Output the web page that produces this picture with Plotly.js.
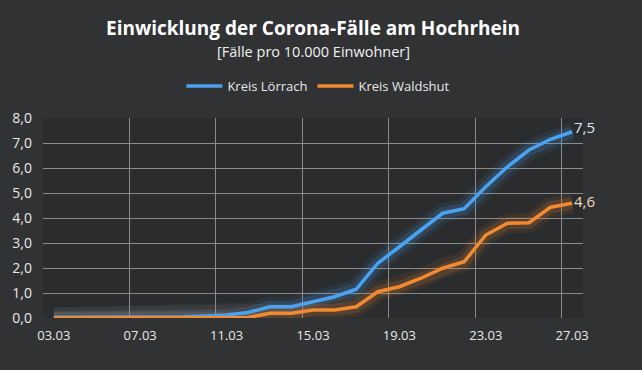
<!DOCTYPE html>
<html><head><meta charset="utf-8">
<script src="https://cdn.plot.ly/plotly-3.0.1.min.js"></script>
<style>html,body{margin:0;padding:0;background:#313234;}#c{width:642px;height:370px;}</style>
</head><body><div id="c"></div>
<script>
const dates = ["03.03","04.03","05.03","06.03","07.03","08.03","09.03","10.03","11.03","12.03","13.03","14.03","15.03","16.03","17.03","18.03","19.03","20.03","21.03","22.03","23.03","24.03","25.03","26.03","27.03"];
const loerrach = [0.03,0.03,0.03,0.03,0.03,0.03,0.05,0.08,0.12,0.22,0.45,0.45,0.66,0.85,1.15,2.19,2.85,3.52,4.19,4.37,5.25,6.05,6.72,7.15,7.45];
const waldshut = [0,0,0,0,0,0,0,0,0,0.02,0.19,0.19,0.32,0.32,0.45,1.05,1.25,1.59,1.99,2.25,3.32,3.79,3.81,4.43,4.59];
const names = ["Kreis Lörrach","Kreis Waldshut"];
const endLabels = ["7,5","4,6"];
const yTicks = [0,1,2,3,4,5,6,7,8];
const xTicks = ["03.03","07.03","11.03","15.03","19.03","23.03","27.03"];

const blue = "#4aa3f0", orange = "#f28b30";
function glow(y, c, w, op){
  return {x: dates, y: y, type:"scatter", mode:"lines", line:{color:c, width:w}, opacity:op, showlegend:false, hoverinfo:"skip"};
}
const data = [
  glow(loerrach, blue, 20, 0.08), glow(loerrach, blue, 12, 0.16),
  glow(waldshut, orange, 20, 0.08), glow(waldshut, orange, 12, 0.16),
  {x: dates, y: loerrach, name: names[0], type:"scatter", mode:"lines", line:{color:blue, width:3.5}},
  {x: dates, y: waldshut, name: names[1], type:"scatter", mode:"lines", line:{color:orange, width:3.5}}
];
const n = dates.length - 1;
const layout = {
  width:642, height:370,
  paper_bgcolor:"#313234", plot_bgcolor:"#2b2c2e",
  margin:{l:43, r:59, t:118, b:52},
  separators:",.",
  font:{family:"Open Sans, sans-serif", color:"#e8e8e8", size:12},
  showlegend:true,
  legend:{orientation:"h", x:0.51, xanchor:"center", y:1.16, yanchor:"middle", font:{size:13, color:"#e8e8e8"}, bgcolor:"rgba(0,0,0,0)", itemwidth:36},
  xaxis:{type:"category", range:[-0.5, n+0.5], tickmode:"array", tickvals:xTicks, ticktext:xTicks, tickson:"boundaries", tickangle:0, ticks:"", ticklabelstandoff:8, showgrid:true, gridcolor:"#8a8a8a", gridwidth:1, zeroline:false, showline:false, tickfont:{size:13, color:"#e8e8e8"}, fixedrange:true, automargin:false},
  yaxis:{range:[0,8], tickvals:yTicks, tickformat:".1f", showgrid:true, gridcolor:"#8a8a8a", gridwidth:1, zeroline:false, showline:false, ticks:"", ticklabelstandoff:10, tickfont:{size:14, color:"#e8e8e8"}, fixedrange:true, automargin:false},
  annotations:[
    {xref:"paper", yref:"paper", x:0.5, y:(318-28)/200, xanchor:"center", yanchor:"middle", text:"<b>Einwicklung der Corona-Fälle am Hochrhein</b>", showarrow:false, font:{size:19, color:"#ffffff"}},
    {xref:"paper", yref:"paper", x:0.5, y:(318-51)/200, xanchor:"center", yanchor:"middle", text:"[Fälle pro 10.000 Einwohner]", showarrow:false, font:{size:14.5, color:"#f0f0f0"}},
    {xref:"paper", yref:"paper", x:(n+0.5)/(n+1), y:loerrach[n]/8, text:endLabels[0], showarrow:false, xanchor:"left", yanchor:"middle", xshift:0, yshift:5, font:{size:15, color:"#dbe8f8"}},
    {xref:"paper", yref:"paper", x:(n+0.5)/(n+1), y:waldshut[n]/8, text:endLabels[1], showarrow:false, xanchor:"left", yanchor:"middle", xshift:0, yshift:2, font:{size:15, color:"#f4dcc4"}}
  ]
};
Plotly.newPlot("c", data, layout, {displayModeBar:false, staticPlot:true});
</script></body></html>
